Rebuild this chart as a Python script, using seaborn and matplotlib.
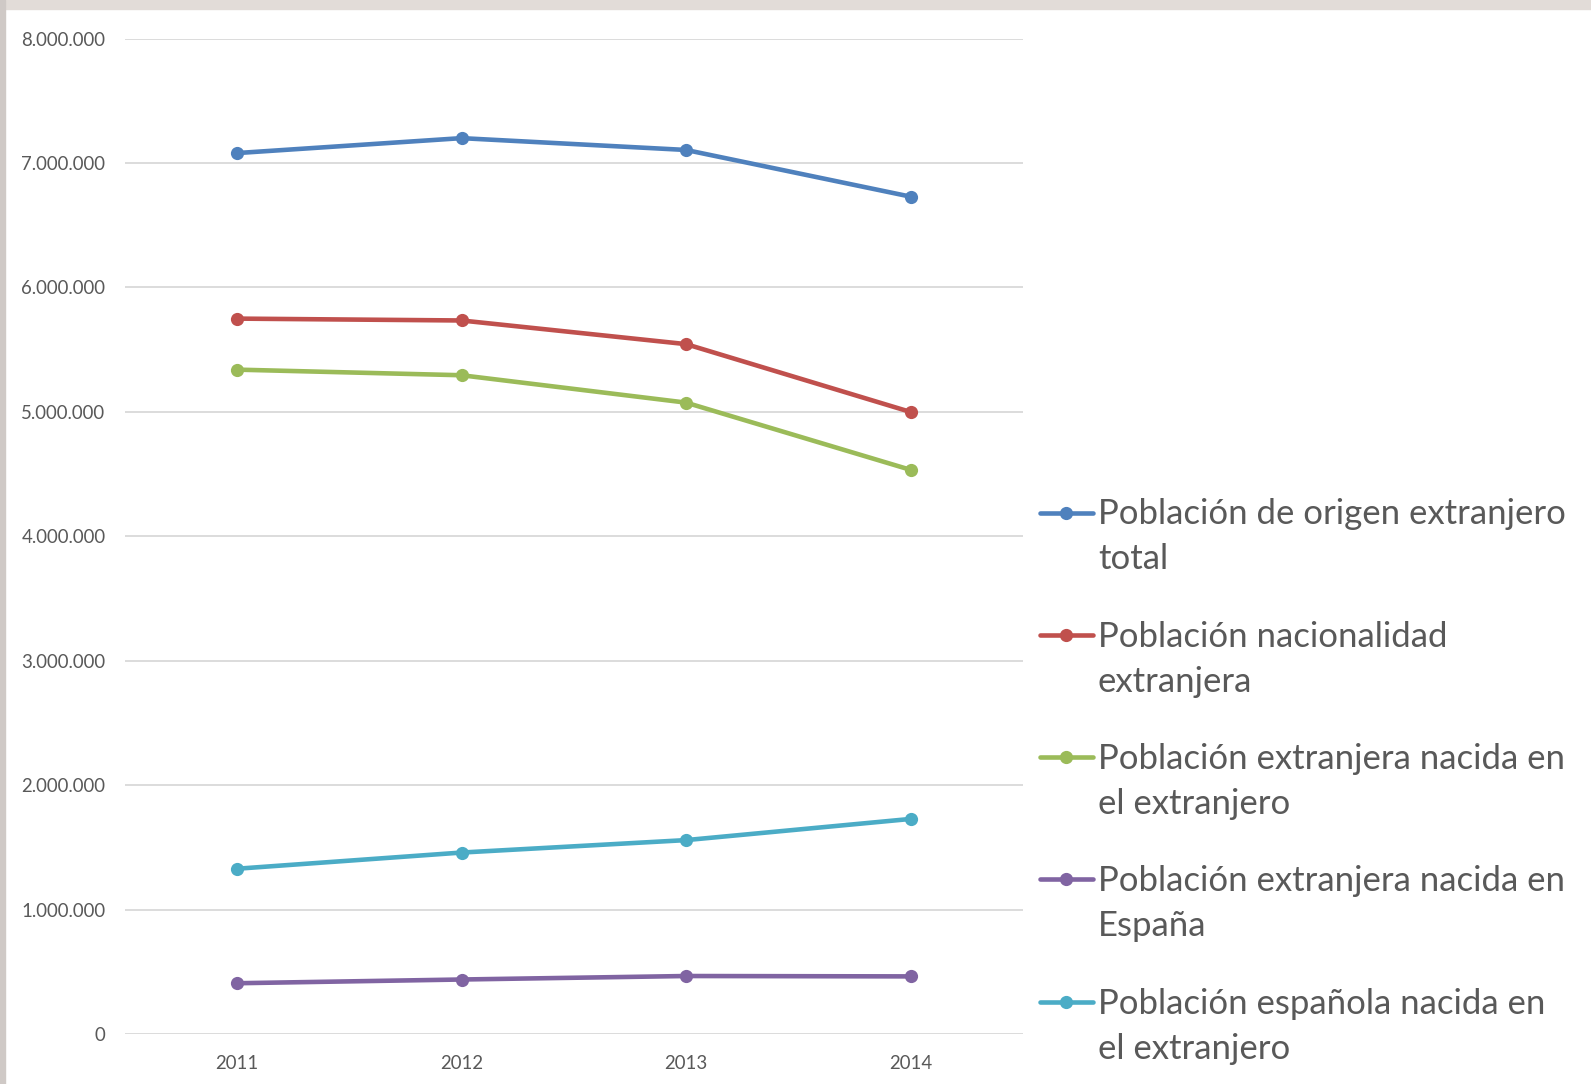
import matplotlib
matplotlib.use("Agg")
import matplotlib.pyplot as plt
from matplotlib.lines import Line2D
from matplotlib.patches import Rectangle
from matplotlib.ticker import FuncFormatter
import pandas as pd
import seaborn as sns

years = ["2011", "2012", "2013", "2014"]
series_names = [
    "Población de origen extranjero\ntotal",
    "Población nacionalidad\nextranjera",
    "Población extranjera nacida en\nel extranjero",
    "Población extranjera nacida en\nEspaña",
    "Población española nacida en\nel extranjero",
]
origen_total = [7080000, 7200000, 7105000, 6730000]
nacionalidad_ext = [5750000, 5735000, 5545000, 5000000]
ext_nacida_ext = [5340000, 5295000, 5075000, 4535000]
ext_nacida_esp = [410000, 440000, 468000, 465000]
esp_nacida_ext = [1330000, 1460000, 1560000, 1730000]
series_values = [origen_total, nacionalidad_ext, ext_nacida_ext,
                 ext_nacida_esp, esp_nacida_ext]
colors = ["#4F81BD", "#C0504D", "#9BBB59", "#8064A2", "#4BACC6"]

rows = []
for name, vals in zip(series_names, series_values):
    for y, v in zip(years, vals):
        rows.append({"Año": y, "Población": v, "Serie": name})
df = pd.DataFrame(rows)

sns.set_theme(style="white")
plt.rcParams["font.family"] = ["Lato", "DejaVu Sans"]
text_color = "#595959"

# layout measured on a 1568 x 1068 view of the reference
W, H = 1568, 1068

fig = plt.figure(figsize=(15.91, 10.84), dpi=100)
ax = fig.add_axes([123 / W, 1 - 1019 / H, (1008 - 123) / W, (1019 - 38) / H])

sns.lineplot(data=df, x="Año", y="Población", hue="Serie", palette=colors,
             marker="o", markersize=9.5, markeredgewidth=0, linewidth=3.3,
             sort=False, legend=False, ax=ax)

ax.set_xlim(-0.5, 3.5)
ax.set_ylim(0, 8000000)
ax.set_yticks(range(0, 8000001, 1000000))
ax.yaxis.set_major_formatter(FuncFormatter(lambda v, p: f"{int(v):,}".replace(",", ".")))
ax.grid(axis="y", color="#D9D9D9", linewidth=1.3)
ax.grid(axis="x", visible=False)
for s in ax.spines.values():
    s.set_visible(False)
ax.tick_params(axis="y", length=0, pad=14, labelsize=13.4, labelcolor=text_color)
ax.tick_params(axis="x", length=0, pad=15, labelsize=13.4, labelcolor=text_color)
ax.set_xlabel("")
ax.set_ylabel("")

# legend drawn at the right side
for i, (name, c) in enumerate(zip(series_names, colors)):
    yc = 1 - (505 + 120.5 * i) / H
    fig.add_artist(Line2D([1025 / W, 1077 / W], [yc, yc], color=c, linewidth=3.3,
                          transform=fig.transFigure))
    fig.add_artist(Line2D([1051 / W], [yc], color=c, marker="o", markersize=9.5,
                          markeredgewidth=0, transform=fig.transFigure))
    fig.text(1082 / W, yc + 14 / H, name, fontsize=25, color=text_color,
             va="top", ha="left", linespacing=1.5)

# screenshot edges
fig.add_artist(Rectangle((0, 1 - 9 / H), 1, 9 / H, transform=fig.transFigure,
                         color="#E2DCD8", zorder=0))
fig.add_artist(Rectangle((0, 0), 5 / W, 1, transform=fig.transFigure,
                         color="#CFC9C6", zorder=0))

fig.savefig("out.png", dpi=100)
